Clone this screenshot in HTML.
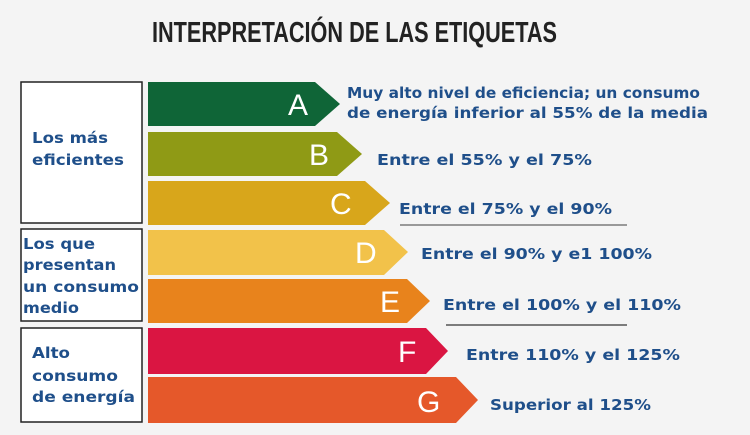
<!DOCTYPE html>
<html><head><meta charset="utf-8"><style>
html,body{margin:0;padding:0;background:#f4f4f4;}
svg{display:block;}
.t{font-family:"DejaVu Sans","Liberation Sans",sans-serif;font-weight:bold;font-size:15px;fill:#1f4f8a;}
.l{font-family:"Liberation Sans",sans-serif;font-size:30px;fill:#fff;}
</style></head><body>
<svg width="750" height="435" viewBox="0 0 750 435" xmlns="http://www.w3.org/2000/svg">
<rect width="750" height="435" fill="#f4f4f4"/>
<text x="152" y="42" font-family="Liberation Sans,sans-serif" font-weight="bold" font-size="29" fill="#222" textLength="405" lengthAdjust="spacingAndGlyphs">INTERPRETACIÓN DE LAS ETIQUETAS</text>
<rect x="21" y="82" width="121" height="141" fill="#fff" stroke="#222" stroke-width="1.5"/>
<rect x="21" y="229" width="121" height="92" fill="#fff" stroke="#222" stroke-width="1.5"/>
<rect x="21" y="328" width="121" height="94" fill="#fff" stroke="#222" stroke-width="1.5"/>
<polygon points="148,82 315,82 340,104 315,126 148,126" fill="#0f6537"/>
<polygon points="148,132 337,132 362,154 337,176 148,176" fill="#8f9a15"/>
<polygon points="148,181 365,181 390,203 365,225 148,225" fill="#d8a61b"/>
<polygon points="148,230 384,230 408,252 384,275 148,275" fill="#f2c24a"/>
<polygon points="148,279 407,279 430,301 407,323 148,323" fill="#e8831c"/>
<polygon points="148,328 426,328 448,351 426,374 148,374" fill="#da1542"/>
<polygon points="148,377 456,377 478,400 456,423 148,423" fill="#e5582a"/>
<text class="l" x="288" y="115">A</text>
<text class="l" x="309" y="165">B</text>
<text class="l" x="330" y="214">C</text>
<text class="l" x="355" y="263">D</text>
<text class="l" x="380" y="312">E</text>
<text class="l" x="398" y="362">F</text>
<text class="l" x="417" y="412">G</text>
<text class="t" x="347" y="98" textLength="353" lengthAdjust="spacingAndGlyphs">Muy alto nivel de eficiencia; un consumo</text>
<text class="t" x="347" y="118" textLength="361" lengthAdjust="spacingAndGlyphs">de energía inferior al 55% de la media</text>
<text class="t" x="377" y="165" textLength="215" lengthAdjust="spacingAndGlyphs">Entre el 55% y el 75%</text>
<text class="t" x="399" y="214" textLength="213" lengthAdjust="spacingAndGlyphs">Entre el 75% y el 90%</text>
<text class="t" x="421" y="259" textLength="231" lengthAdjust="spacingAndGlyphs">Entre el 90% y e1 100%</text>
<text class="t" x="443" y="310" textLength="238" lengthAdjust="spacingAndGlyphs">Entre el 100% y el 110%</text>
<text class="t" x="466" y="360" textLength="214" lengthAdjust="spacingAndGlyphs">Entre 110% y el 125%</text>
<text class="t" x="490" y="410" textLength="161" lengthAdjust="spacingAndGlyphs">Superior al 125%</text>
<line x1="400" y1="225" x2="627" y2="225" stroke="#999" stroke-width="2"/>
<line x1="446" y1="325" x2="627" y2="325" stroke="#555" stroke-width="1.5"/>
<text class="t" x="32" y="143" textLength="76" lengthAdjust="spacingAndGlyphs">Los más</text>
<text class="t" x="32" y="165" textLength="92" lengthAdjust="spacingAndGlyphs">eficientes</text>
<text class="t" x="23" y="249" textLength="72" lengthAdjust="spacingAndGlyphs">Los que</text>
<text class="t" x="23" y="270" textLength="93" lengthAdjust="spacingAndGlyphs">presentan</text>
<text class="t" x="23" y="292" textLength="116" lengthAdjust="spacingAndGlyphs">un consumo</text>
<text class="t" x="23" y="313" textLength="56" lengthAdjust="spacingAndGlyphs">medio</text>
<text class="t" x="32" y="358" textLength="38" lengthAdjust="spacingAndGlyphs">Alto</text>
<text class="t" x="32" y="381" textLength="86" lengthAdjust="spacingAndGlyphs">consumo</text>
<text class="t" x="32" y="402" textLength="103" lengthAdjust="spacingAndGlyphs">de energía</text>
</svg>
</body></html>
